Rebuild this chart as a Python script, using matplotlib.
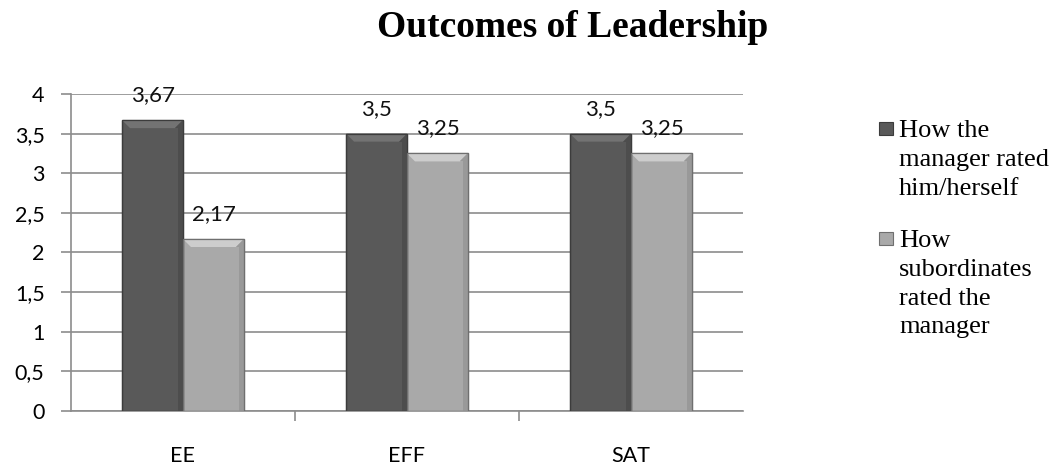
import matplotlib.pyplot as plt
from matplotlib.patches import Polygon, Rectangle
import numpy as np

categories = ['EE', 'EFF', 'SAT']
manager_self = [3.67, 3.5, 3.5]
subordinates = [2.17, 3.25, 3.25]
series_names = ['How the\nmanager rated\nhim/herself', 'How\nsubordinates\nrated the\nmanager']
yticks = [0, 0.5, 1, 1.5, 2, 2.5, 3, 3.5, 4]


def fmt(v):
    s = ('%.2f' % v).rstrip('0').rstrip('.')
    return s.replace('.', ',')


W, H = 1054, 465
fig = plt.figure(figsize=(W / 100, H / 100), dpi=100)
ax = fig.add_axes([71 / W, 1 - 411 / H, 672 / W, 317 / H])

x = np.arange(len(categories))
w = 0.272
gray = '#8c8c8c'
# body, bevel top, bevel side, edge
styles = [('#595959', '#737373', '#4d4d4d', '#3c3c3c'),
          ('#a9a9a9', '#cdcdcd', '#999999', '#6f6f6f')]

ax.set_xlim(-0.5, 2.5)
ax.set_ylim(0, 4)

bx = 8 / 224.0   # bevel width in data units (x)
by = 8 * 4 / 317.0  # bevel height in data units (y)

for k, (vals, off) in enumerate(((manager_self, -w / 2), (subordinates, w / 2))):
    body, top, side, edge = styles[k]
    bars = ax.bar(x + off, vals, w, color=body, edgecolor=edge, linewidth=0.9,
                  zorder=3)
    for rect, v in zip(bars, vals):
        x0 = rect.get_x()
        x1 = x0 + rect.get_width()
        ax.add_patch(Polygon([(x0, v), (x1, v), (x1 - bx, v - by), (x0 + bx, v - by)],
                             closed=True, facecolor=top, edgecolor='none', zorder=4))
        ax.add_patch(Polygon([(x1, v), (x1, 0), (x1 - bx * 0.6, 0), (x1 - bx * 0.6, v - by),
                              (x1 - bx, v - by)],
                             closed=True, facecolor=side, edgecolor='none', zorder=4))
        ax.add_patch(Rectangle((x0, 0), rect.get_width(), v, facecolor='none',
                               edgecolor=edge, linewidth=0.9, zorder=5))
        ax.text((x0 + x1) / 2, v + 0.24, fmt(v), ha='center', va='baseline',
                fontsize=16, family='Lato', color='#111111', zorder=6)

ax.set_yticks(yticks)
ax.set_yticklabels([fmt(t) for t in yticks], family='Lato', fontsize=15.5)
ax.yaxis.grid(True, color=gray, linewidth=1.2, zorder=0)
ax.set_axisbelow(True)

ax.set_xticks(x)
ax.set_xticklabels(categories, family='Lato', fontsize=15.5)
ax.tick_params(axis='x', length=0, pad=25)
ax.set_xticks([0.5, 1.5], minor=True)
ax.tick_params(axis='x', which='minor', length=7, color=gray, width=1.2)
ax.tick_params(axis='y', length=7, color=gray, width=1.2, pad=12)

for s in ('top', 'right'):
    ax.spines[s].set_visible(False)
for s in ('left', 'bottom'):
    ax.spines[s].set_color(gray)
    ax.spines[s].set_linewidth(1.2)

fig.text(573 / W, 1 - 37 / H, 'Outcomes of Leadership', ha='center', va='baseline',
         fontsize=27, fontweight='bold', family='Liberation Serif')

# legend: marker aligned with the first text line of each entry
legend_tops = [122, 232]
for k, name in enumerate(series_names):
    body, top, side, edge = styles[k]
    t = legend_tops[k]
    fig.patches.append(Rectangle((879 / W, 1 - (t + 13) / H), 14 / W, 13 / H,
                                 transform=fig.transFigure, facecolor=body,
                                 edgecolor=edge, linewidth=0.8))
    fig.text(899 / W, 1 - (t - 2) / H, name, ha='left', va='top', fontsize=19,
             family='Liberation Serif', linespacing=1.40)

fig.savefig('out.png', dpi=100)
